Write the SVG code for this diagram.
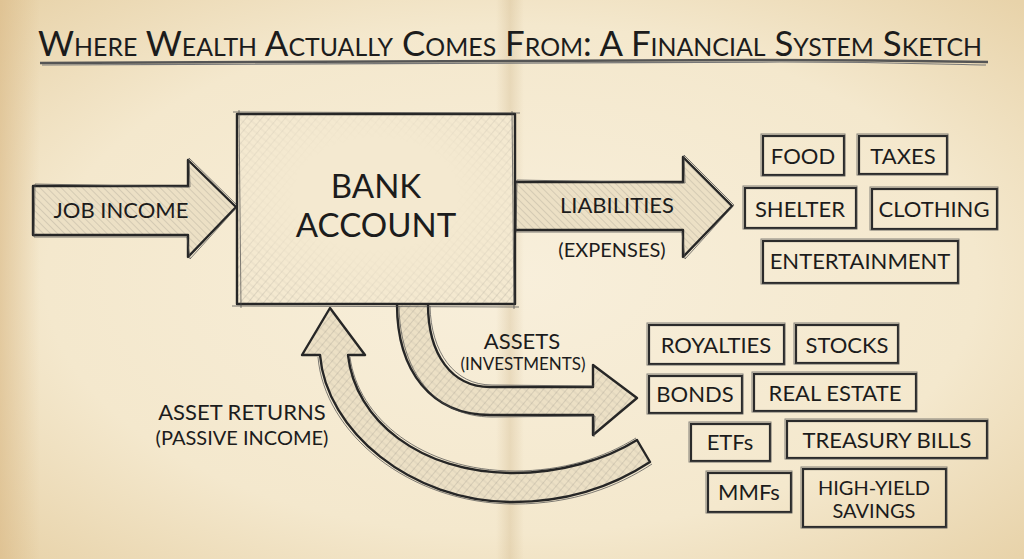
<svg xmlns="http://www.w3.org/2000/svg" width="1024" height="559" viewBox="0 0 1024 559">
  <defs>
    <radialGradient id="paper" cx="50%" cy="50%" r="70%">
      <stop offset="0" stop-color="#f8efdb"/>
      <stop offset="0.65" stop-color="#f4e8cd"/>
      <stop offset="1" stop-color="#e8d3aa"/>
    </radialGradient>
    <linearGradient id="fold" x1="0" x2="1" y1="0" y2="0">
      <stop offset="0" stop-color="#c9ae80" stop-opacity="0"/>
      <stop offset="0.5" stop-color="#c9ae80" stop-opacity="0.3"/>
      <stop offset="1" stop-color="#c9ae80" stop-opacity="0"/>
    </linearGradient>
    <linearGradient id="leftEdge" x1="0" x2="1" y1="0" y2="0">
      <stop offset="0" stop-color="#d9b885" stop-opacity="0.6"/>
      <stop offset="1" stop-color="#d9b885" stop-opacity="0"/>
    </linearGradient>
    <pattern id="hatch" width="5" height="5" patternUnits="userSpaceOnUse" patternTransform="rotate(-45)">
      <line x1="0" y1="0" x2="0" y2="5" stroke="#555" stroke-width="0.8" stroke-opacity="0.5"/>
    </pattern>
    <pattern id="cross" width="6" height="6" patternUnits="userSpaceOnUse" patternTransform="rotate(40)">
      <line x1="0" y1="0" x2="0" y2="6" stroke="#555" stroke-width="0.7" stroke-opacity="0.45"/>
      <line x1="0" y1="3" x2="6" y2="3" stroke="#555" stroke-width="0.5" stroke-opacity="0.25"/>
    </pattern>
    <radialGradient id="edgeFade" cx="50%" cy="42%" r="72%">
      <stop offset="0.4" stop-color="#000"/>
      <stop offset="1" stop-color="#fff"/>
    </radialGradient>
    <mask id="boxMask">
      <rect x="237" y="114" width="278" height="190" fill="url(#edgeFade)"/>
    </mask>
    <style>
      text { font-family: Lato, "Open Sans", "Liberation Sans", sans-serif; fill: #1c1c1c; text-anchor: middle; }
      .title { font-size: 35px; font-variant: small-caps; }
      .big { font-size: 33px; }
      .lbl { font-size: 22px; }
      .sub { font-size: 20px; }
      .tag { font-size: 22px; }
      .ink { fill: none; stroke: #262626; stroke-width: 2.4; stroke-linejoin: round; stroke-linecap: round; }
      .ink2 { fill: none; stroke: #4a4a4a; stroke-width: 1; stroke-opacity: 0.7; stroke-linejoin: round; }
      .arrowfill { fill: #ece0c5; }
      .hatchfill { fill: url(#hatch); }
      .box { fill: none; stroke: #2b2b2b; stroke-width: 2.2; }
      .box2 { fill: none; stroke: #555; stroke-width: 1; stroke-opacity: 0.7; }
    </style>
  </defs>

  <!-- paper -->
  <rect width="1024" height="559" fill="url(#paper)"/>
  <rect x="0" y="0" width="40" height="559" fill="url(#leftEdge)"/>
  <rect x="496" y="0" width="28" height="559" fill="url(#fold)"/>

  <!-- title -->
  <g id="title">
    <text class="title" x="510" y="56" textLength="944" lengthAdjust="spacingAndGlyphs">Where Wealth Actually Comes From: A Financial System Sketch</text>
    <path d="M40,63 C250,60 500,61 760,60 C850,60 930,61 988,62" fill="none" stroke="#555" stroke-width="2.5"/>
    <path d="M42,65 C260,63 520,64 780,62 C870,62 940,64 986,65" fill="none" stroke="#777" stroke-width="1.2"/>
  </g>

  <!-- connectors -->
  <g id="connectors">
    <g id="job-income-arrow">
      <path class="arrowfill" d="M33,186 L188,186 L188,160 L236,207 L188,257 L188,235 L33,235 Z"/>
      <path class="hatchfill" d="M33,186 L188,186 L188,160 L236,207 L188,257 L188,235 L33,235 Z" opacity="0.8"/>
      <path class="ink" d="M33,186 L188,186 L188,160 L236,207 L188,257 L188,235 L33,235 Z"/>
      <path class="ink2" d="M35,184 L190,187 L189,158 L238,206 L190,259 L187,237 L34,237 Z"/>
    </g>
    <g id="liabilities-arrow">
      <path class="arrowfill" d="M515,182 L683,182 L683,157 L732,206 L683,257 L683,230 L515,230 Z"/>
      <path class="hatchfill" d="M515,182 L683,182 L683,157 L732,206 L683,257 L683,230 L515,230 Z" opacity="0.8"/>
      <path class="ink" d="M515,182 L683,182 L683,157 L732,206 L683,257 L683,230 L515,230 Z"/>
      <path class="ink2" d="M517,180 L685,183 L684,155 L734,205 L685,259 L682,232 L516,232 Z"/>
    </g>
    <g id="assets-arrow">
      <path class="arrowfill" d="M397,304 C397,372 432,415 490,415 L593,415 L593,435 L637,398 L593,365 L593,387 L490,387 C452,387 428,355 428,304 Z"/>
      <path fill="url(#cross)" d="M397,304 C397,372 432,415 490,415 L593,415 L593,435 L637,398 L593,365 L593,387 L490,387 C452,387 428,355 428,304 Z"/>
      <path class="ink" d="M397,304 C397,372 432,415 490,415 L593,415 L593,435 L637,398 L593,365 L593,387 L490,387 C452,387 428,355 428,304"/>
      <path class="ink2" d="M399,306 C400,370 434,417 492,417 L595,416 L594,437 M430,306 C431,352 454,385 492,385 L594,386"/>
    </g>
    <g id="asset-returns-arrow">
      <path class="arrowfill" d="M330,308 L365,355 L348,355 C355,420 420,473 513,473 C560,473 605,460 637,440 L650,462 C615,485 570,502 513,502 C410,502 326,430 320,355 L302,355 Z"/>
      <path fill="url(#cross)" d="M330,308 L365,355 L348,355 C355,420 420,473 513,473 C560,473 605,460 637,440 L650,462 C615,485 570,502 513,502 C410,502 326,430 320,355 L302,355 Z"/>
      <path class="ink" d="M330,308 L365,355 L348,355 C355,420 420,473 513,473 C560,473 605,460 637,440 L650,462 C615,485 570,502 513,502 C410,502 326,430 320,355 L302,355 Z"/>
      <path class="ink2" d="M318,357 C324,432 408,504 515,504 C572,504 617,487 652,464 M350,357 C358,418 422,471 515,471 C562,471 604,458 636,438"/>
    </g>
  </g>

  <!-- bank account -->
  <g id="bank-account">
    <rect x="237" y="114" width="278" height="190" fill="#f4e9d0"/>
    <rect x="237" y="114" width="278" height="190" fill="url(#cross)" mask="url(#boxMask)"/>
    <rect class="ink" x="237" y="114" width="278" height="190" stroke-width="3"/>
    <path class="ink2" d="M233,112 L520,113 M239,110 L241,308 M512,111 L514,309 M232,306 L519,307"/>
    <text class="big" x="376" y="198">BANK</text>
    <text class="big" x="376" y="237">ACCOUNT</text>
  </g>

  <!-- labels -->
  <g id="labels">
    <text class="lbl" x="121" y="218">JOB INCOME</text>
    <text class="lbl" x="617" y="213">LIABILITIES</text>
    <text class="sub" x="612" y="257">(EXPENSES)</text>
    <text class="lbl" x="522" y="349">ASSETS</text>
    <text class="sub" x="523" y="370" style="font-size:17px">(INVESTMENTS)</text>
    <text class="lbl" x="242" y="420">ASSET RETURNS</text>
    <text class="sub" x="242" y="445">(PASSIVE INCOME)</text>
  </g>

  <!-- liabilities items -->
  <g id="food"><rect class="box" x="763" y="136" width="81" height="39"/><rect class="box2" x="761" y="134" width="84" height="42"/><text class="tag" x="803" y="164">FOOD</text></g>
  <g id="taxes"><rect class="box" x="859" y="136" width="88" height="38"/><rect class="box2" x="857" y="134" width="91" height="41"/><text class="tag" x="903" y="164">TAXES</text></g>
  <g id="shelter"><rect class="box" x="745" y="188" width="111" height="40"/><rect class="box2" x="743" y="186" width="114" height="43"/><text class="tag" x="800" y="217">SHELTER</text></g>
  <g id="clothing"><rect class="box" x="872" y="189" width="125" height="40"/><rect class="box2" x="870" y="187" width="128" height="43"/><text class="tag" x="934" y="217">CLOTHING</text></g>
  <g id="entertainment"><rect class="box" x="763" y="241" width="195" height="42"/><rect class="box2" x="761" y="239" width="198" height="45"/><text class="tag" x="860" y="269">ENTERTAINMENT</text></g>

  <!-- asset items -->
  <g id="royalties"><rect class="box" x="649" y="325" width="135" height="39"/><rect class="box2" x="647" y="323" width="138" height="42"/><text class="tag" x="716" y="353">ROYALTIES</text></g>
  <g id="stocks"><rect class="box" x="796" y="325" width="102" height="38"/><rect class="box2" x="794" y="323" width="105" height="41"/><text class="tag" x="847" y="353">STOCKS</text></g>
  <g id="bonds"><rect class="box" x="649" y="376" width="93" height="37"/><rect class="box2" x="647" y="374" width="96" height="40"/><text class="tag" x="695" y="402">BONDS</text></g>
  <g id="real-estate"><rect class="box" x="754" y="374" width="162" height="37"/><rect class="box2" x="752" y="372" width="165" height="40"/><text class="tag" x="835" y="401">REAL ESTATE</text></g>
  <g id="etfs"><rect class="box" x="691" y="424" width="79" height="37"/><rect class="box2" x="689" y="422" width="82" height="40"/><text class="tag" x="730" y="450">ETFs</text></g>
  <g id="treasury-bills"><rect class="box" x="787" y="421" width="200" height="37"/><rect class="box2" x="785" y="419" width="203" height="40"/><text class="tag" x="887" y="448">TREASURY BILLS</text></g>
  <g id="mmfs"><rect class="box" x="708" y="473" width="83" height="39"/><rect class="box2" x="706" y="471" width="86" height="42"/><text class="tag" x="749" y="500">MMFs</text></g>
  <g id="high-yield-savings"><rect class="box" x="803" y="469" width="143" height="58"/><rect class="box2" x="801" y="467" width="146" height="61"/><text class="tag" x="874" y="495" style="font-size:20px">HIGH-YIELD</text><text class="tag" x="874" y="518" style="font-size:20px">SAVINGS</text></g>
</svg>
